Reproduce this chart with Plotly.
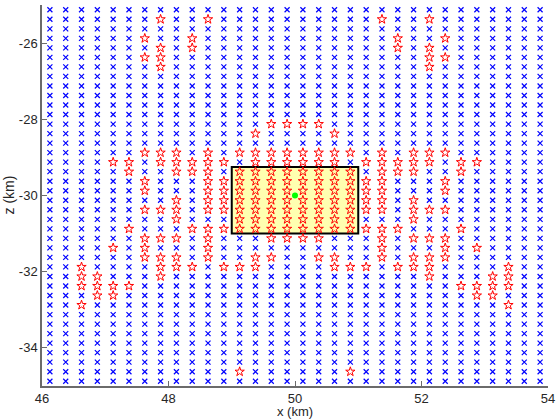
import plotly.graph_objects as go

# grid node positions (km)
x_nodes = [46.125, 46.375, 46.625, 46.875, 47.125, 47.375, 47.625, 47.875,
           48.125, 48.375, 48.625, 48.875, 49.125, 49.375, 49.625, 49.875,
           50.125, 50.375, 50.625, 50.875, 51.125, 51.375, 51.625, 51.875,
           52.125, 52.375, 52.625, 52.875, 53.125, 53.375, 53.625, 53.875]
z_nodes = [-25.125, -25.375, -25.625, -25.875, -26.125, -26.375, -26.625, -26.875,
           -27.125, -27.375, -27.625, -27.875, -28.125, -28.375, -28.625, -28.875,
           -29.125, -29.375, -29.625, -29.875, -30.125, -30.375, -30.625, -30.875,
           -31.125, -31.375, -31.625, -31.875, -32.125, -32.375, -32.625, -32.875,
           -33.125, -33.375, -33.625, -33.875, -34.125, -34.375, -34.625, -34.875]

# node status per row, top to bottom ('*' red star, '.' blue cross), in blocks of 8
node_map = [
    "........ ........ ........ ........",
    ".......* ..*..... .....*.. *.......",
    "........ ........ ........ ........",
    "......*. .*...... ......*. .*......",
    ".......* .*...... ......*. *.......",
    "......** ........ ........ **......",
    ".......* ........ ........ *.......",
    "........ ........ ........ ........",
    "........ ........ ........ ........",
    "........ ........ ........ ........",
    "........ ........ ........ ........",
    "........ ........ ........ ........",
    "........ ......** **...... ........",
    "........ .....*.. ..*..... ........",
    "........ ........ ........ ........",
    "......** *.*.**** ****.*.* **......",
    "....**.* ****.*** ***.**** *.**....",
    ".....*.. ***.**** ****.*** ..*.....",
    "......*. ..****** ******.. .*......",
    "......*. ..****** ******.. .*......",
    "........ *.****** ******.* ........",
    "......** *.****** ******.* **......",
    "........ *...**** ****...* ........",
    ".....*.. .******* *******. ..*.....",
    "......** *.*...** **...*.* **......",
    "....*.*. ..*..... .....*.. .*.*....",
    "......** *.*..**. .**..*.* **......",
    "..*....* **.***.. ..***.** *....*..",
    "..**...* ........ ........ *...**..",
    "..****.. ........ ........ ..****..",
    "...**... ........ ........ ...**...",
    "..*..... ........ ........ .....*..",
    "........ ........ ........ ........",
    "........ ........ ........ ........",
    "........ ........ ........ ........",
    "........ ........ ........ ........",
    "........ ........ ........ ........",
    "........ ........ ........ ........",
    "........ ....*... ...*.... ........",
    "........ ........ ........ ........",
]

x_ticks = [46, 48, 50, 52, 54]
z_ticks = [-26, -28, -30, -32, -34]

box_x = [49.0, 51.0]
box_z = [-31.0, -29.25]
source_x = [50.0]
source_z = [-30.0]

cross_x, cross_z, star_x, star_z = [], [], [], []
for j, row in enumerate(node_map):
    row = row.replace(' ', '')
    for k, c in enumerate(row):
        if c == '*':
            star_x.append(x_nodes[k]); star_z.append(z_nodes[j])
        else:
            cross_x.append(x_nodes[k]); cross_z.append(z_nodes[j])

font = dict(family='Liberation Sans, Arial, sans-serif', size=13, color='#262626')
axis_col = '#6b6b6b'

fig = go.Figure()
fig.add_shape(type='rect', x0=box_x[0], x1=box_x[1], y0=box_z[0], y1=box_z[1],
              fillcolor='#FFFFB0', line=dict(color='black', width=2), layer='below')
fig.add_trace(go.Scatter(
    x=cross_x, y=cross_z, mode='markers',
    marker=dict(symbol='x-thin', size=5, line=dict(color='#0000FF', width=1.2)),
))
fig.add_trace(go.Scatter(
    x=star_x, y=star_z, mode='markers',
    marker=dict(symbol='star-open', size=7, color='#FF0000', line=dict(width=1)),
))
fig.add_trace(go.Scatter(
    x=source_x, y=source_z, mode='markers',
    marker=dict(symbol='circle', size=6, color='#00FF00'),
))

fig.add_annotation(text='x (km)', xref='paper', yref='paper', x=0.5, y=0,
                   xanchor='center', yanchor='middle', yshift=-25, showarrow=False,
                   borderpad=0)
fig.add_annotation(text='z (km)', xref='paper', yref='paper', x=0, y=0.5, textangle=-90,
                   xanchor='right', yanchor='middle', xshift=-24, showarrow=False,
                   font=dict(size=14))

fig.update_layout(
    width=560, height=420,
    margin=dict(l=42, r=8, t=5, b=34),
    plot_bgcolor='white', paper_bgcolor='white',
    showlegend=False,
    font=font,
    xaxis=dict(range=[46, 54], tickvals=x_ticks, ticktext=[str(v) for v in x_ticks],
               showgrid=False, zeroline=False,
               showline=True, linecolor=axis_col, linewidth=1.5, ticks='inside', ticklen=5,
               tickcolor=axis_col),
    yaxis=dict(range=[-35, -25], tickvals=z_ticks, ticktext=[str(v) for v in z_ticks],
               showgrid=False, zeroline=False,
               showline=True, linecolor=axis_col, linewidth=1.5, ticks='inside', ticklen=5,
               tickcolor=axis_col),
)

# page body margin would push the fixed-size figure out of the window
fig.write_html("out.html", config={'displayModeBar': False},
               post_script="document.body.style.margin='0';document.body.style.overflow='hidden';")
